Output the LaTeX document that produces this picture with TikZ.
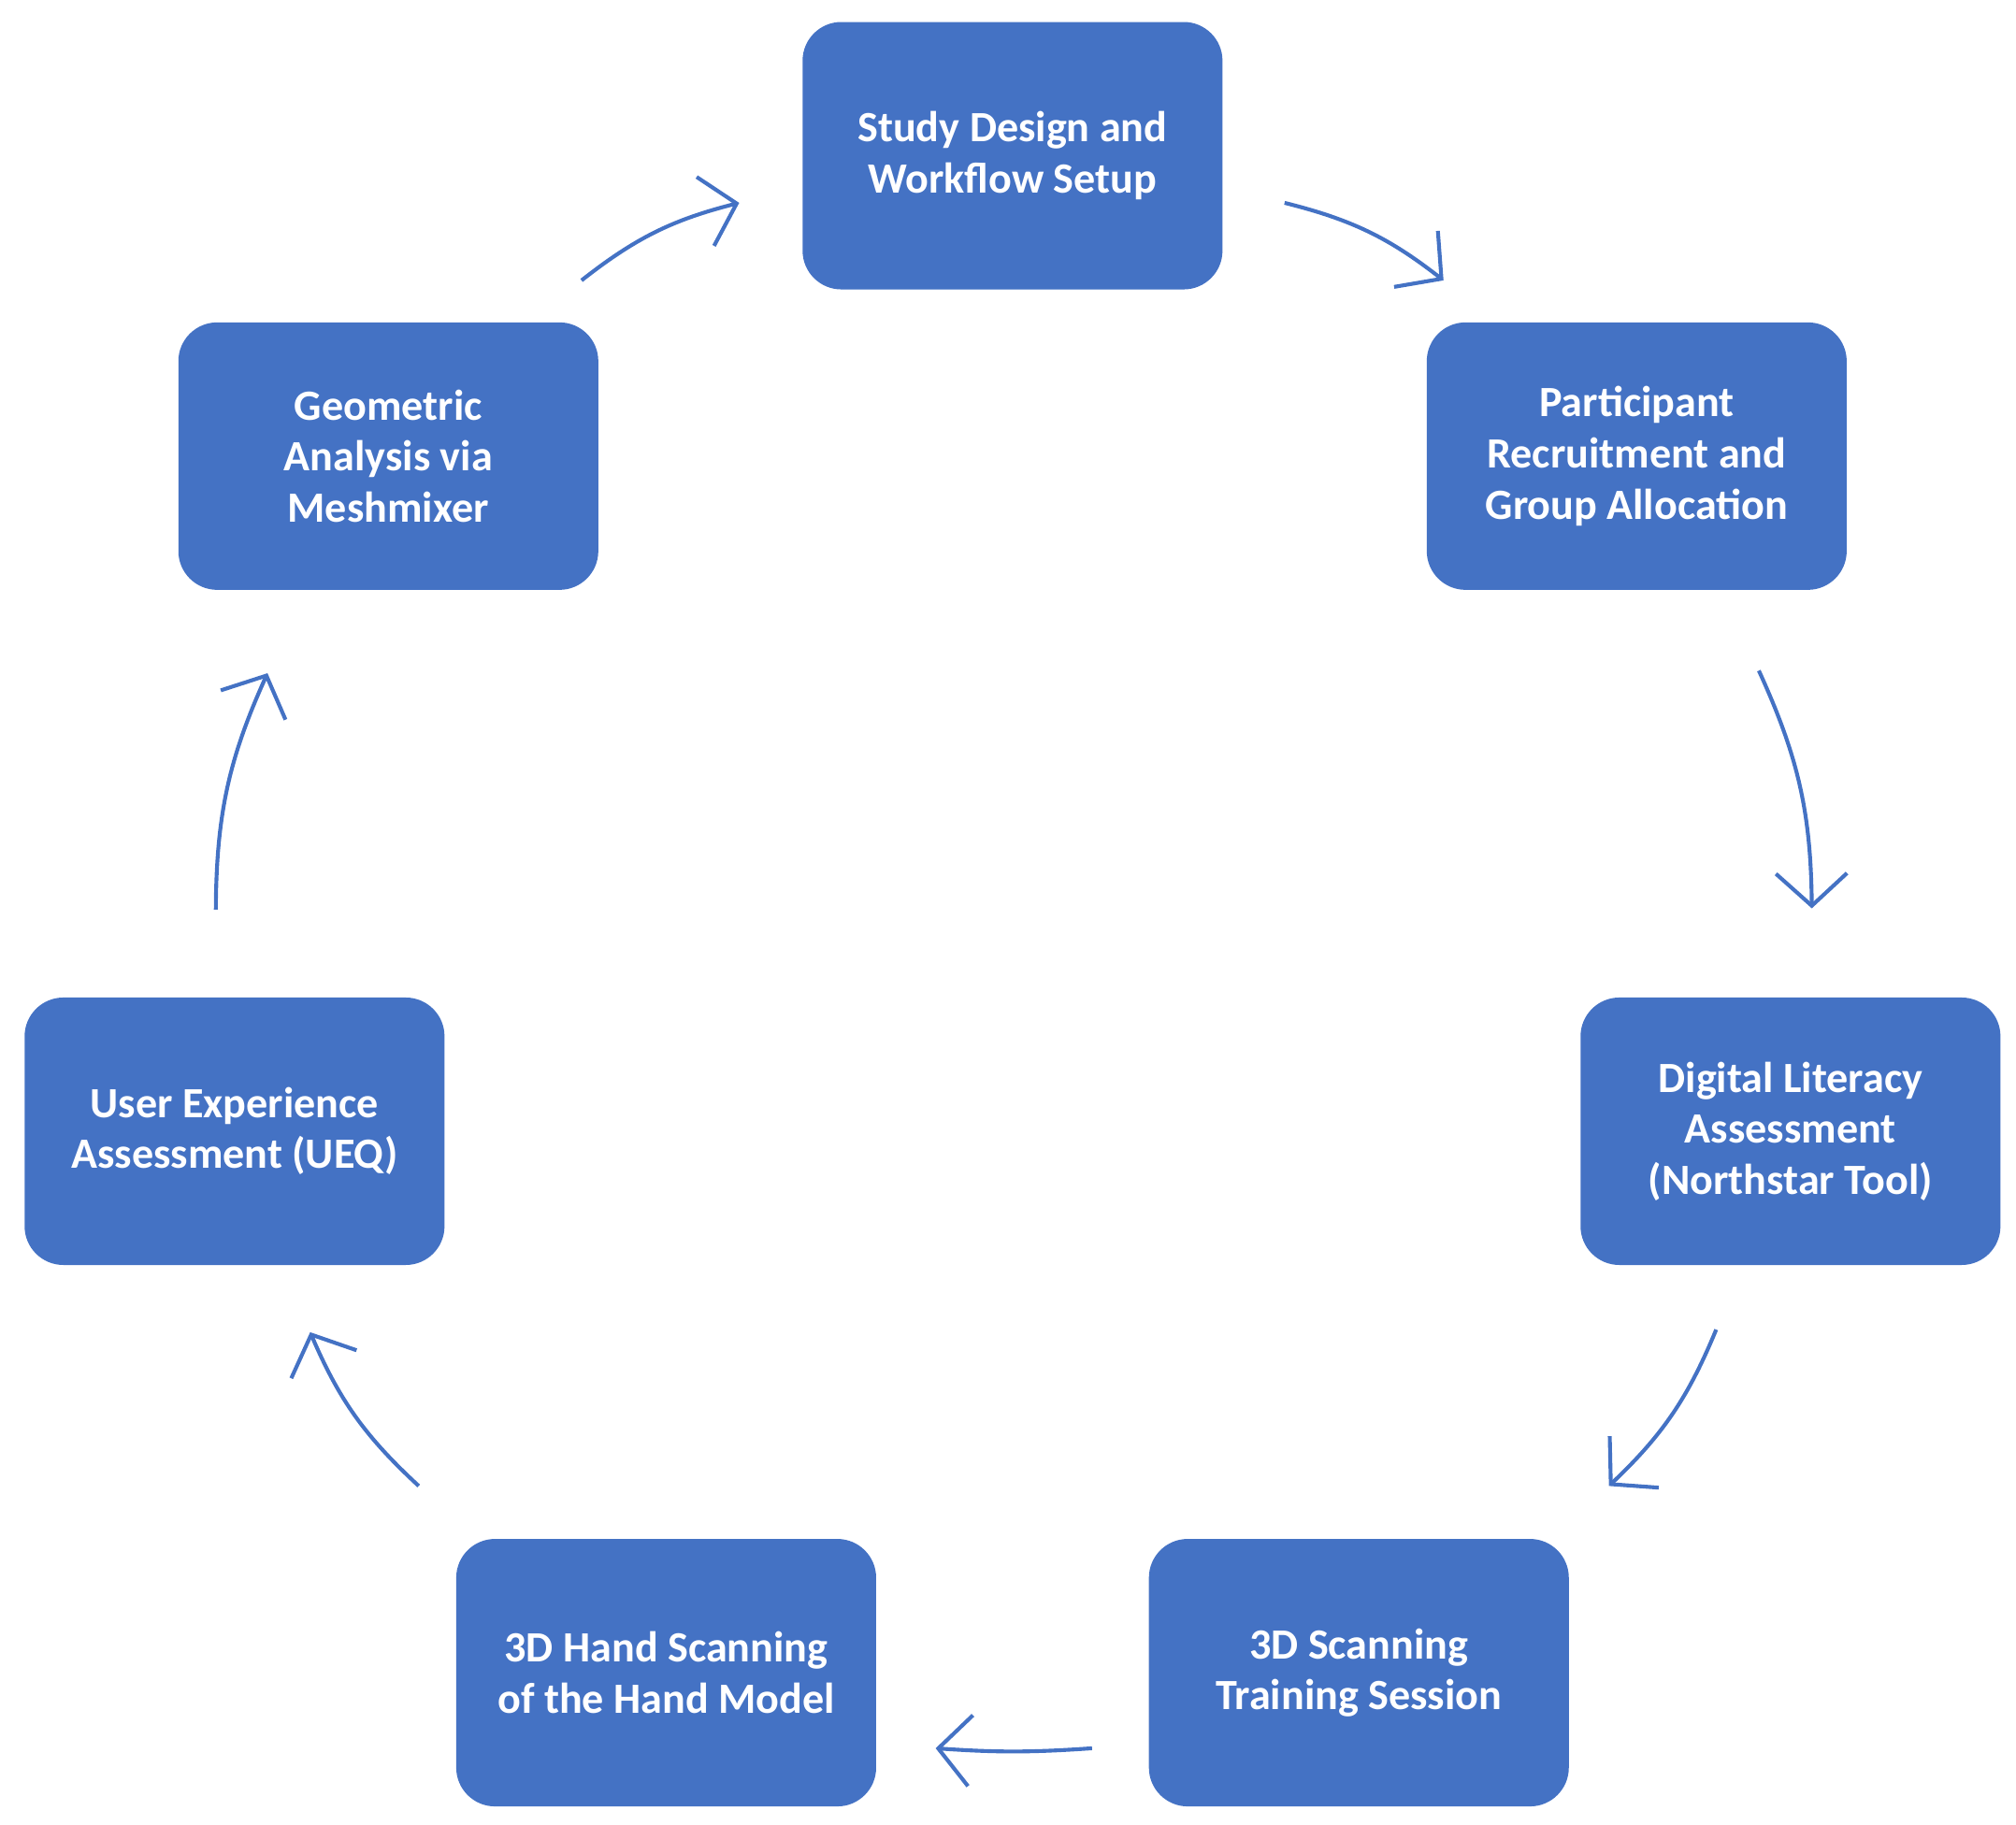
\documentclass[tikz,border=0pt]{standalone}
\usepackage{fontspec}
\setmainfont{Carlito}
\usetikzlibrary{arrows.meta}
\definecolor{boxblue}{HTML}{4472C4}
\begin{document}
\begin{tikzpicture}[x=0.02cm,y=-0.02cm,
  box/.style={draw=none,fill=boxblue,rounded corners=0.6cm,minimum width=6.5cm,minimum height=4.14cm,
    text=white,font=\bfseries\fontsize{19}{22.5}\selectfont,align=center},
  arr/.style={draw=boxblue,line width=1.7pt,-{Straight Barb[length=0.5cm,width=1.1cm,line width=1.7pt]},bend left=12}]
\useasboundingbox (0,0) rectangle (1560,1412);
\node[box] (n1) at (783.5,120.5) {Study Design and\\Workflow Setup};
\node[box] (n2) at (1266.5,353) {Participant\\Recruitment and\\Group Allocation};
\node[box] (n3) at (1385.5,875.5) {Digital Literacy\\Assessment\\(Northstar Tool)};
\node[box] (n4) at (1051.5,1294.5) {3D Scanning\\Training Session};
\node[box] (n5) at (515.5,1294.5) {3D Hand Scanning\\of the Hand Model};
\node[box] (n6) at (181.5,875.5) {User Experience\\Assessment (UEQ)};
\node[box] (n7) at (300.5,353) {Geometric\\Analysis via\\Meshmixer};
\coordinate (a1) at (450,217); \coordinate (a2) at (572,157);
\coordinate (b1) at (994,157); \coordinate (b2) at (1117,217);
\coordinate (c1) at (1361,519); \coordinate (c2) at (1402,703);
\coordinate (d1) at (1328,1029); \coordinate (d2) at (1245,1150);
\coordinate (e1) at (845,1353); \coordinate (e2) at (724,1353);
\coordinate (f1) at (324,1150); \coordinate (f2) at (240,1031);
\coordinate (g1) at (167,704); \coordinate (g2) at (207,521);
\draw[arr] (a1) to (a2);
\draw[arr] (b1) to (b2);
\draw[arr] (c1) to (c2);
\draw[arr] (d1) to (d2);
\draw[arr,bend left=4] (e1) to (e2);
\draw[arr] (f1) to (f2);
\draw[arr] (g1) to (g2);
\end{tikzpicture}
\end{document}
